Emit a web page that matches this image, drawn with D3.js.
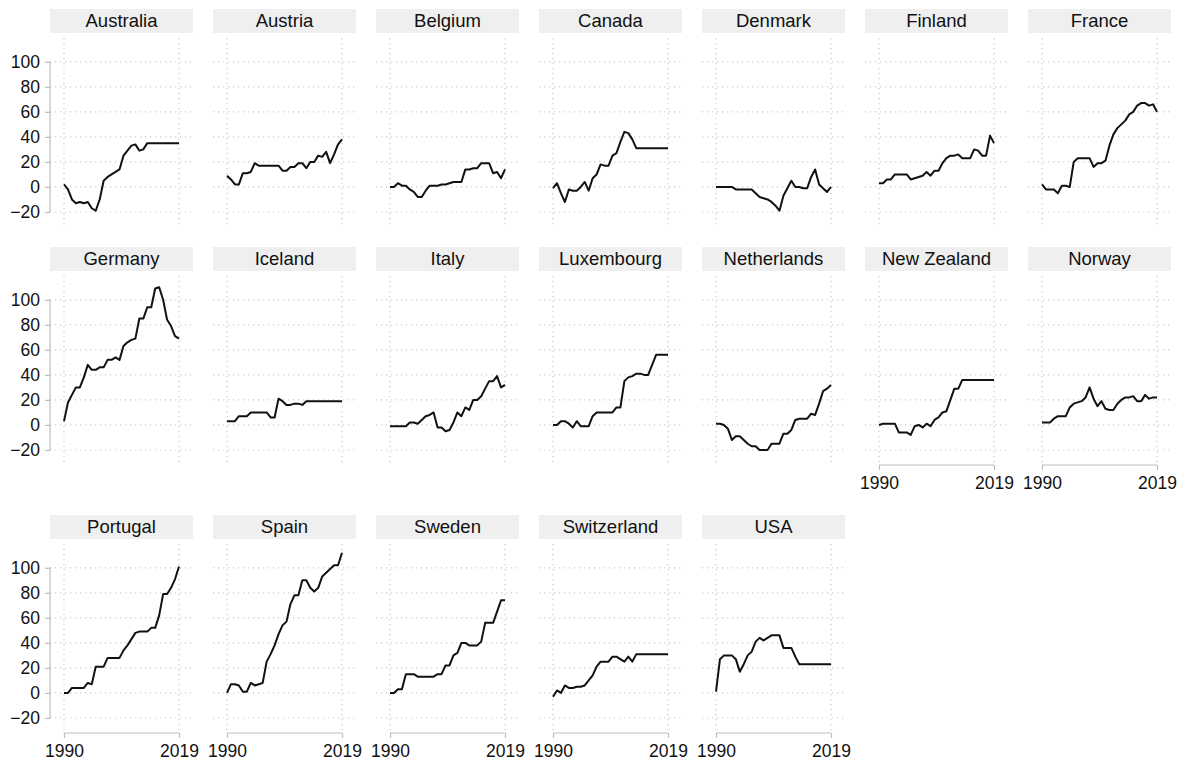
<!DOCTYPE html>
<html>
<head>
<meta charset="utf-8">
<script src="https://cdn.jsdelivr.net/npm/d3@7"></script>
<style>
  body { margin: 0; background: #fff; }
  svg { display: block; }
  text { font-family: "Liberation Sans", Arial, Helvetica, sans-serif; fill: #111; }
</style>
</head>
<body>
<svg id="chart" width="1186" height="763"></svg>
<script>
// Years on the x axis
const years = d3.range(1990, 2020);

// Panel order (row by row)
const countries = [
  "Australia", "Austria", "Belgium", "Canada", "Denmark", "Finland", "France",
  "Germany", "Iceland", "Italy", "Luxembourg", "Netherlands", "New Zealand", "Norway",
  "Portugal", "Spain", "Sweden", "Switzerland", "USA"
];

// One value per year, 1990–2019
const australia   = [2,-2,-10,-13,-12,-13,-12,-17,-19,-10, 5,8,10,12,14,25,29,33,34,29, 30,35,35,35,35,35,35,35,35,35];
const austria     = [9,6,2,2,11,11,12,19,17,17, 17,17,17,17,13,13,16,16,19,19, 15,20,20,25,24,28,19,26,34,38];
const belgium     = [0,0,3,1,1,-2,-4,-8,-8,-3, 1,1,1,2,2,3,4,4,4,14, 14,15,15,19,19,19,11,12,7,14];
const canada      = [-1,3,-5,-12,-2,-3,-3,0,4,-3, 7,10,18,17,17,25,27,36,44,43, 38,31,31,31,31,31,31,31,31,31];
const denmark     = [0,0,0,0,0,-2,-2,-2,-2,-2, -5,-8,-9,-10,-12,-15,-19,-7,-1,5, 0,0,-1,-1,8,14,2,-1,-4,0];
const finland     = [3,3,6,6,10,10,10,10,6,7, 8,9,12,9,13,13,19,23,25,25, 26,23,23,23,30,29,25,25,41,35];
const france      = [2,-2,-2,-2,-5,1,1,0,20,23, 23,23,23,16,19,19,21,33,42,47, 50,53,58,60,65,67,67,65,66,60];
const germany     = [3,18,24,30,30,38,48,44,44,46, 46,52,52,54,52,63,66,68,69,85, 85,94,94,109,110,100,84,79,71,69];
const iceland     = [3,3,3,7,7,7,10,10,10,10, 10,6,6,21,19,16,16,17,17,16, 19,19,19,19,19,19,19,19,19,19];
const italy       = [-1,-1,-1,-1,-1,2,2,1,4,7, 8,10,-2,-2,-5,-4,2,10,7,14, 12,20,20,23,29,35,35,39,30,32];
const luxembourg  = [0,0,3,3,1,-2,3,-1,-1,-1, 7,10,10,10,10,10,14,14,35,38, 39,41,41,40,40,48,56,56,56,56];
const netherlands = [1,1,0,-3,-12,-9,-9,-12,-15,-17, -17,-20,-20,-20,-15,-15,-15,-7,-7,-4, 4,5,5,5,9,8,17,27,29,32];
const newZealand  = [0,1,1,1,1,-6,-6,-6,-8,-1, 0,-2,1,-1,4,6,10,11,20,29, 29,36,36,36,36,36,36,36,36,36];
const norway      = [2,2,2,5,7,7,7,14,17,18, 19,22,30,21,15,19,13,12,12,17, 20,22,22,23,19,19,24,21,22,22];
const portugal    = [0,0,4,4,4,4,8,7,21,21, 21,28,28,28,28,34,38,43,48,49, 49,49,52,52,62,79,79,84,91,101];
const spain       = [0,7,7,6,1,1,8,6,7,8, 25,31,38,47,54,57,71,78,78,90, 90,84,81,84,93,96,99,102,102,112];
const sweden      = [0,0,3,3,15,15,15,13,13,13, 13,13,15,15,22,22,30,32,40,40, 38,38,38,41,56,56,56,65,74,74];
const switzerland = [-3,2,0,6,4,4,5,5,6,10, 14,21,25,25,25,29,29,27,25,29, 25,31,31,31,31,31,31,31,31,31];
const usa         = [1,27,30,30,30,27,17,23,30,33, 41,44,42,44,46,46,46,36,36,36, 29,23,23,23,23,23,23,23,23,23];

const seriesValues = [
  australia, austria, belgium, canada, denmark, finland, france,
  germany, iceland, italy, luxembourg, netherlands, newZealand, norway,
  portugal, spain, sweden, switzerland, usa
];

// Axis ticks
const yTicks = [-20, 0, 20, 40, 60, 80, 100];
const xTicks = [1990, 2019];

const series = countries.map((name, i) => ({ name, values: seriesValues[i] }));

// Layout of the small multiples
const nCols = 7;
const nRows = Math.ceil(series.length / nCols);
const panelW = 143, colStep = 163, left0 = 50, top0 = 9;
const stripH = 24, plotTop = 29, plotH = 189;
const rowStep = 238, axisSpace = 30;

const hasXAxis = i => i + nCols >= series.length;

// Top of each row: rows that carry an x axis need extra room below
const rowTops = [];
{
  let t = top0;
  for (let r = 0; r < nRows; r++) {
    rowTops.push(t);
    let extra = 0;
    for (let c = 0; c < nCols; c++) {
      const i = r * nCols + c;
      if (i < series.length && hasXAxis(i) && r < nRows - 1) extra = axisSpace;
    }
    t += rowStep + extra;
  }
}

const x = d3.scaleLinear().domain([1990, 2019]).range([14, 129]);
const y = d3.scaleLinear().domain([-32, 119]).range([plotH, 0]);

const line = d3.line()
  .x((d, i) => x(years[i]))
  .y(d => y(d));

const svg = d3.select("#chart");
const gridColor = "#c9c9c9";
const axisColor = "#bdbdbd";

series.forEach((s, i) => {
  const col = i % nCols, row = Math.floor(i / nCols);
  const g = svg.append("g")
    .attr("transform", `translate(${left0 + col * colStep},${rowTops[row]})`);

  // strip header
  g.append("rect")
    .attr("width", panelW).attr("height", stripH)
    .attr("fill", "#efefef");
  g.append("text")
    .attr("x", panelW / 2).attr("y", stripH / 2 - 0.6)
    .attr("dy", "0.35em")
    .attr("text-anchor", "middle")
    .style("font-size", "18.5px")
    .text(s.name);

  const p = g.append("g").attr("transform", `translate(0,${plotTop})`);

  // dotted grid
  p.append("g").selectAll("line").data(yTicks).join("line")
    .attr("x1", 0).attr("x2", panelW)
    .attr("y1", d => y(d)).attr("y2", d => y(d))
    .attr("stroke", gridColor).attr("stroke-width", 1.2)
    .attr("stroke-dasharray", "1.2,3.8");
  p.append("g").selectAll("line").data(xTicks).join("line")
    .attr("x1", d => x(d)).attr("x2", d => x(d))
    .attr("y1", 0).attr("y2", plotH)
    .attr("stroke", gridColor).attr("stroke-width", 1.2)
    .attr("stroke-dasharray", "1.2,3.8");

  // y axis on the first column
  if (col === 0) {
    const ya = p.append("g")
      .call(d3.axisLeft(y).tickValues(yTicks).tickSize(5).tickPadding(5));
    ya.select(".domain").remove();
    ya.selectAll(".tick line").attr("stroke", axisColor).attr("stroke-width", 1.2);
    ya.selectAll(".tick text")
      .style("font-size", "17.5px")
      .style("font-family", '"Liberation Sans", Arial, sans-serif')
      .attr("fill", "#111");
    ya.append("line")
      .attr("x1", 0).attr("x2", 0)
      .attr("y1", y(-20)).attr("y2", y(100))
      .attr("stroke", axisColor).attr("stroke-width", 1.2);
  }

  // x axis where no panel sits below
  if (hasXAxis(i)) {
    const xa = p.append("g")
      .attr("transform", `translate(0,${plotH})`)
      .call(d3.axisBottom(x).tickValues(xTicks).tickFormat(d3.format("d")).tickSize(5).tickPadding(7));
    xa.select(".domain").remove();
    xa.selectAll(".tick line").attr("stroke", axisColor).attr("stroke-width", 1.2);
    xa.selectAll(".tick text")
      .style("font-size", "17.5px")
      .style("font-family", '"Liberation Sans", Arial, sans-serif')
      .attr("fill", "#111");
    xa.append("line")
      .attr("x1", x(1990)).attr("x2", x(2019))
      .attr("y1", 0).attr("y2", 0)
      .attr("stroke", axisColor).attr("stroke-width", 1.2);
  }

  // series line
  p.append("path")
    .datum(s.values)
    .attr("d", line)
    .attr("fill", "none")
    .attr("stroke", "#111")
    .attr("stroke-width", 2)
    .attr("stroke-linejoin", "round");
});
</script>
</body>
</html>
